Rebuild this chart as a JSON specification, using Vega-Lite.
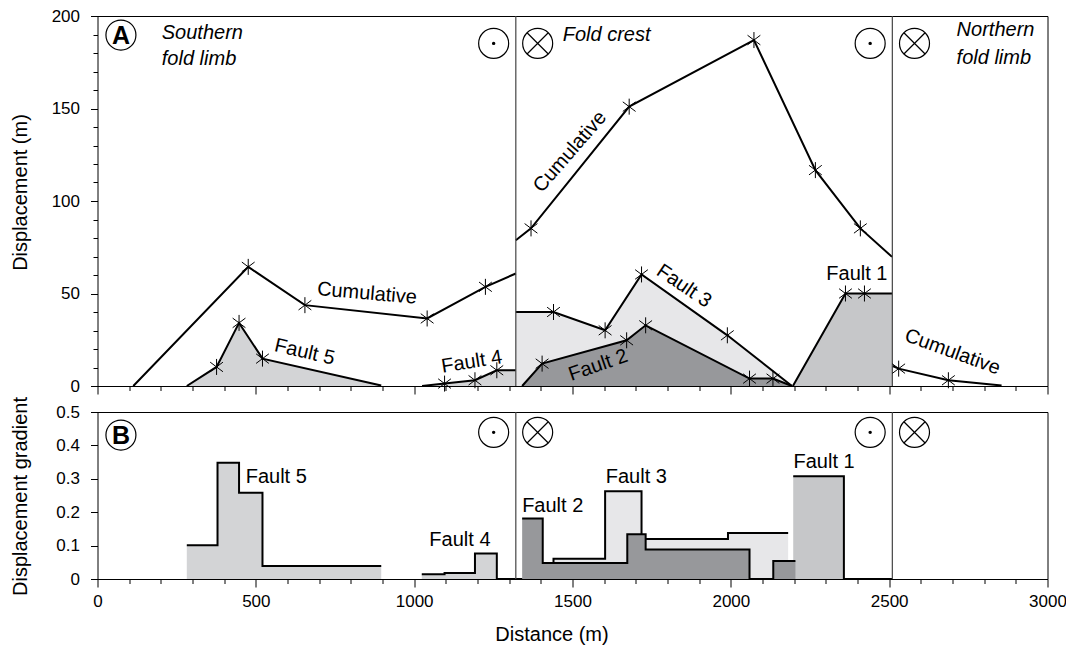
{
  "$schema": "https://vega.github.io/schema/vega-lite/v6.json",
  "padding": {"left": 9.5, "top": 6, "right": 0, "bottom": 5},
  "config": {
    "font": "Liberation Sans",
    "view": {"stroke": "black", "strokeWidth": 1},
    "axis": {"labelFont": "Liberation Sans", "titleFont": "Liberation Sans", "labelFontSize": 17, "titleFontSize": 20, "titleFontWeight": "normal", "labelColor": "black", "titleColor": "black", "tickColor": "black", "domain": false, "grid": false, "labelOverlap": false, "labelFlush": false},
    "text": {"font": "Liberation Sans", "fontSize": 20, "color": "black"}
  },
  "datasets": {
    "dispA": [
      {"series": "Cumulative S", "x": 113, "y": 0, "star": false},
      {"series": "Cumulative S", "x": 476, "y": 64.4, "star": true},
      {"series": "Cumulative S", "x": 655, "y": 43.7, "star": true},
      {"series": "Cumulative S", "x": 1041, "y": 36.5, "star": true},
      {"series": "Cumulative S", "x": 1225, "y": 53.6, "star": true},
      {"series": "Cumulative S", "x": 1321, "y": 60.8, "star": false},
      {"series": "Cumulative C", "x": 1321, "y": 78.8, "star": false},
      {"series": "Cumulative C", "x": 1369, "y": 85.2, "star": true},
      {"series": "Cumulative C", "x": 1679, "y": 151, "star": true},
      {"series": "Cumulative C", "x": 2073, "y": 187, "star": true},
      {"series": "Cumulative C", "x": 2267, "y": 116.7, "star": true},
      {"series": "Cumulative C", "x": 2409, "y": 85.2, "star": true},
      {"series": "Cumulative C", "x": 2509, "y": 69.8, "star": false},
      {"series": "Cumulative N", "x": 2511, "y": 10.8, "star": false},
      {"series": "Cumulative N", "x": 2530, "y": 9.4, "star": true},
      {"series": "Cumulative N", "x": 2687, "y": 3.1, "star": true},
      {"series": "Cumulative N", "x": 2855, "y": 0.3, "star": false},
      {"series": "Fault 5", "x": 282, "y": 0, "star": false},
      {"series": "Fault 5", "x": 376, "y": 10.3, "star": true},
      {"series": "Fault 5", "x": 447, "y": 34.1, "star": true},
      {"series": "Fault 5", "x": 521, "y": 14.8, "star": true},
      {"series": "Fault 5", "x": 896, "y": 0.3, "star": false},
      {"series": "Fault 4", "x": 1025, "y": 0, "star": false},
      {"series": "Fault 4", "x": 1096, "y": 1.3, "star": true},
      {"series": "Fault 4", "x": 1192, "y": 3.1, "star": true},
      {"series": "Fault 4", "x": 1261, "y": 8.5, "star": true},
      {"series": "Fault 4", "x": 1321, "y": 8.5, "star": false},
      {"series": "Fault 3", "x": 1321, "y": 40, "star": false},
      {"series": "Fault 3", "x": 1440, "y": 40, "star": true},
      {"series": "Fault 3", "x": 1603, "y": 30.1, "star": true},
      {"series": "Fault 3", "x": 1718, "y": 60.3, "star": true},
      {"series": "Fault 3", "x": 1989, "y": 27.4, "star": true},
      {"series": "Fault 3", "x": 2193, "y": 0, "star": false},
      {"series": "Fault 2", "x": 1341, "y": 0, "star": false},
      {"series": "Fault 2", "x": 1404, "y": 12.1, "star": true},
      {"series": "Fault 2", "x": 1671, "y": 24.7, "star": true},
      {"series": "Fault 2", "x": 1731, "y": 32.8, "star": true},
      {"series": "Fault 2", "x": 2059, "y": 4, "star": true},
      {"series": "Fault 2", "x": 2133, "y": 4, "star": true},
      {"series": "Fault 2", "x": 2193, "y": 0, "star": false},
      {"series": "Fault 1", "x": 2196, "y": 0, "star": false},
      {"series": "Fault 1", "x": 2362, "y": 50, "star": true},
      {"series": "Fault 1", "x": 2422, "y": 50, "star": true},
      {"series": "Fault 1", "x": 2509, "y": 50, "star": false}
    ],
    "gradB": [
      {"series": "Fault 5", "x": 282, "y": 0.101},
      {"series": "Fault 5", "x": 379, "y": 0.348},
      {"series": "Fault 5", "x": 447, "y": 0.258},
      {"series": "Fault 5", "x": 521, "y": 0.039},
      {"series": "Fault 5", "x": 896, "y": 0.039},
      {"series": "Fault 4", "x": 1024, "y": 0.014},
      {"series": "Fault 4", "x": 1096, "y": 0.018},
      {"series": "Fault 4", "x": 1192, "y": 0.076},
      {"series": "Fault 4", "x": 1261, "y": 0},
      {"series": "Fault 4", "x": 1321, "y": 0},
      {"series": "Fault 3", "x": 1321, "y": 0},
      {"series": "Fault 3", "x": 1440, "y": 0.061},
      {"series": "Fault 3", "x": 1603, "y": 0.263},
      {"series": "Fault 3", "x": 1718, "y": 0.12},
      {"series": "Fault 3", "x": 1991, "y": 0.138},
      {"series": "Fault 3", "x": 2181, "y": 0.138},
      {"series": "Fault 2", "x": 1341, "y": 0.181},
      {"series": "Fault 2", "x": 1406, "y": 0.048},
      {"series": "Fault 2", "x": 1673, "y": 0.134},
      {"series": "Fault 2", "x": 1731, "y": 0.088},
      {"series": "Fault 2", "x": 2059, "y": 0},
      {"series": "Fault 2", "x": 2134, "y": 0.054},
      {"series": "Fault 2", "x": 2204, "y": 0.054},
      {"series": "Fault 1", "x": 2197, "y": 0.308},
      {"series": "Fault 1", "x": 2357, "y": 0},
      {"series": "Fault 1", "x": 2509, "y": 0}
    ]
  },
  "vconcat": [
    {
      "width": 950,
      "height": 370,
      "encoding": {
        "x": {"field": "x", "type": "quantitative", "scale": {"domain": [0, 3000], "nice": false, "zero": false},
          "axis": {"values": [0,100,200,300,400,500,600,700,800,900,1000,1100,1200,1300,1400,1500,1600,1700,1800,1900,2000,2100,2200,2300,2400,2500,2600,2700,2800,2900,3000], "labels": false, "title": null, "tickSize": {"condition": {"test": "datum.value % 500 === 0", "value": 8}, "value": 4.5}}},
        "y": {"field": "y", "type": "quantitative", "scale": {"domain": [0, 200], "nice": false},
          "axis": {"values": [0,10,20,30,40,50,60,70,80,90,100,110,120,130,140,150,160,170,180,190,200], "labelExpr": "datum.value % 50 === 0 ? format(datum.value, 'd') : ''", "labelPadding": 11, "tickSize": {"condition": {"test": "datum.value % 50 === 0", "value": 7}, "value": 4.5}, "title": "Displacement (m)", "titleX": -77, "titleY": 176, "titleBaseline": "middle", "titleAlign": "center"}}
      },
      "layer": [
        {
          "data": {"name": "dispA"},
          "transform": [{"filter": {"field": "series", "oneOf": ["Fault 1", "Fault 3", "Fault 4", "Fault 5"]}}],
          "mark": {"type": "area"},
          "encoding": {
            "y": {"field": "y", "type": "quantitative", "stack": null},
            "color": {"field": "series", "type": "nominal", "legend": null, "scale": {"domain": ["Fault 1", "Fault 2", "Fault 3", "Fault 4", "Fault 5"], "range": ["#c6c7c9", "#97989b", "#e7e7e9", "#d3d4d6", "#d3d4d6"]}}
          }
        },
        {
          "data": {"name": "dispA"},
          "transform": [{"filter": "datum.series !== 'Fault 2'"}],
          "mark": {"type": "line", "color": "black", "strokeWidth": 2},
          "encoding": {"detail": {"field": "series"}}
        },
        {
          "data": {"name": "dispA"},
          "transform": [{"filter": "datum.series === 'Fault 2'"}],
          "mark": {"type": "area"},
          "encoding": {
            "y": {"field": "y", "type": "quantitative", "stack": null},
            "color": {"field": "series", "type": "nominal", "legend": null}
          }
        },
        {
          "data": {"name": "dispA"},
          "transform": [{"filter": "datum.series === 'Fault 2'"}],
          "mark": {"type": "line", "color": "black", "strokeWidth": 2},
          "encoding": {"detail": {"field": "series"}}
        },
        {
          "data": {"values": [{"x": 1321}, {"x": 2510}]},
          "mark": {"type": "rule", "color": "#444444", "strokeWidth": 1.2},
          "encoding": {"y": {"value": 0}, "y2": {"value": "height"}}
        },
        {
          "data": {"name": "dispA"},
          "transform": [{"filter": "datum.star"}],
          "mark": {"type": "point", "shape": "M0,-1L0,1M-0.8,-0.6L0.8,0.6M-0.8,0.6L0.8,-0.6", "filled": false, "color": "black", "strokeWidth": 1, "size": 256, "opacity": 1}
        },
        {
          "data": {"values": [{"x": 2398, "y": 60.4, "label": "Fault 1"}]},
          "mark": {"type": "text", "align": "center", "baseline": "middle"},
          "encoding": {"text": {"field": "label"}}
        },
        {
          "data": {"values": [{"x": 851, "y": 50, "label": "Cumulative"}]},
          "mark": {"type": "text", "align": "center", "baseline": "middle", "angle": 5},
          "encoding": {"text": {"field": "label"}}
        },
        {
          "data": {"values": [{"x": 654, "y": 18.4, "label": "Fault 5"}]},
          "mark": {"type": "text", "align": "center", "baseline": "middle", "angle": 13},
          "encoding": {"text": {"field": "label"}}
        },
        {
          "data": {"values": [{"x": 1182, "y": 13, "label": "Fault 4"}]},
          "mark": {"type": "text", "align": "center", "baseline": "middle", "angle": -9},
          "encoding": {"text": {"field": "label"}}
        },
        {
          "data": {"values": [{"x": 1492, "y": 126.6, "label": "Cumulative"}]},
          "mark": {"type": "text", "align": "center", "baseline": "middle", "angle": -49},
          "encoding": {"text": {"field": "label"}}
        },
        {
          "data": {"values": [{"x": 1852, "y": 54, "label": "Fault 3"}]},
          "mark": {"type": "text", "align": "center", "baseline": "middle", "angle": 34},
          "encoding": {"text": {"field": "label"}}
        },
        {
          "data": {"values": [{"x": 1581, "y": 11.2, "label": "Fault 2"}]},
          "mark": {"type": "text", "align": "center", "baseline": "middle", "angle": -19},
          "encoding": {"text": {"field": "label"}}
        },
        {
          "data": {"values": [{"x": 2700, "y": 18.4, "label": "Cumulative"}]},
          "mark": {"type": "text", "align": "center", "baseline": "middle", "angle": 20},
          "encoding": {"text": {"field": "label"}}
        },
        {
          "data": {"values": [
            {"x": 203, "y": 190.8, "label": "Southern"},
            {"x": 203, "y": 176.7, "label": "fold limb"},
            {"x": 1469, "y": 189.7, "label": "Fold crest"},
            {"x": 2713, "y": 192.3, "label": "Northern"},
            {"x": 2713, "y": 177.2, "label": "fold limb"}
          ]},
          "mark": {"type": "text", "align": "left", "baseline": "middle", "fontStyle": "italic"},
          "encoding": {"text": {"field": "label"}}
        },
        {
          "data": {"values": [{"x": 1251, "y": 185.2}, {"x": 2440, "y": 185.2}, {"x": 74, "y": 189.7}]},
          "mark": {"type": "point", "shape": "circle", "filled": false, "color": "black", "strokeWidth": 1.2, "size": 900, "opacity": 1}
        },
        {
          "data": {"values": [{"x": 1251, "y": 185.2}, {"x": 2440, "y": 185.2}]},
          "mark": {"type": "point", "shape": "circle", "filled": true, "color": "black", "size": 12, "opacity": 1}
        },
        {
          "data": {"values": [{"x": 1390, "y": 185.2}, {"x": 2580, "y": 185.2}]},
          "mark": {"type": "point", "shape": "M-1,0A1,1,0,1,0,1,0A1,1,0,1,0,-1,0ZM-0.707,-0.707L0.707,0.707M-0.707,0.707L0.707,-0.707", "filled": false, "color": "black", "strokeWidth": 1.2, "size": 900, "opacity": 1}
        },
        {
          "data": {"values": [{"x": 74, "y": 189.7, "label": "A"}]},
          "mark": {"type": "text", "align": "center", "baseline": "middle", "fontWeight": "bold", "fontSize": 25, "dy": 1},
          "encoding": {"text": {"field": "label"}}
        }
      ]
    },
    {
      "width": 950,
      "height": 167,
      "encoding": {
        "x": {"field": "x", "type": "quantitative", "scale": {"domain": [0, 3000], "nice": false, "zero": false},
          "axis": {"values": [0,100,200,300,400,500,600,700,800,900,1000,1100,1200,1300,1400,1500,1600,1700,1800,1900,2000,2100,2200,2300,2400,2500,2600,2700,2800,2900,3000], "labelExpr": "datum.value % 500 === 0 ? format(datum.value, 'd') : ''", "labelPadding": 6, "tickSize": {"condition": {"test": "datum.value % 500 === 0", "value": 8}, "value": 4.5}, "title": "Distance (m)", "titleX": 454, "titleY": 55, "titleBaseline": "middle", "titleAlign": "center"}},
        "y": {"field": "y", "type": "quantitative", "scale": {"domain": [0, 0.5], "nice": false},
          "axis": {"values": [0, 0.1, 0.2, 0.3, 0.4, 0.5], "labelExpr": "datum.value === 0 ? '0' : format(datum.value, '.1f')", "labelPadding": 11, "tickSize": 7, "title": "Displacement gradient", "titleX": -77, "titleY": 84, "titleBaseline": "middle", "titleAlign": "center"}}
      },
      "layer": [
        {
          "data": {"name": "gradB"},
          "transform": [{"filter": "datum.series !== 'Fault 2'"}],
          "mark": {"type": "area", "interpolate": "step-after"},
          "encoding": {
            "y": {"field": "y", "type": "quantitative", "stack": null},
            "color": {"field": "series", "type": "nominal", "legend": null, "scale": {"domain": ["Fault 1", "Fault 2", "Fault 3", "Fault 4", "Fault 5"], "range": ["#c6c7c9", "#97989b", "#e7e7e9", "#d3d4d6", "#d3d4d6"]}}
          }
        },
        {
          "data": {"name": "gradB"},
          "transform": [{"filter": "datum.series !== 'Fault 2'"}],
          "mark": {"type": "line", "interpolate": "step-after", "color": "black", "strokeWidth": 2},
          "encoding": {"detail": {"field": "series"}}
        },
        {
          "data": {"name": "gradB"},
          "transform": [{"filter": "datum.series === 'Fault 2'"}],
          "mark": {"type": "area", "interpolate": "step-after"},
          "encoding": {
            "y": {"field": "y", "type": "quantitative", "stack": null},
            "color": {"field": "series", "type": "nominal", "legend": null}
          }
        },
        {
          "data": {"name": "gradB"},
          "transform": [{"filter": "datum.series === 'Fault 2'"}],
          "mark": {"type": "line", "interpolate": "step-after", "color": "black", "strokeWidth": 2},
          "encoding": {"detail": {"field": "series"}}
        },
        {
          "data": {"values": [{"x": 1321}, {"x": 2510}]},
          "mark": {"type": "rule", "color": "#444444", "strokeWidth": 1.2},
          "encoding": {"y": {"value": 0}, "y2": {"value": "height"}}
        },
        {
          "data": {"values": [
            {"x": 468, "y": 0.304, "label": "Fault 5"},
            {"x": 1048, "y": 0.117, "label": "Fault 4"},
            {"x": 1341, "y": 0.218, "label": "Fault 2"},
            {"x": 1605, "y": 0.304, "label": "Fault 3"},
            {"x": 2198, "y": 0.349, "label": "Fault 1"}
          ]},
          "mark": {"type": "text", "align": "left", "baseline": "middle"},
          "encoding": {"text": {"field": "label"}}
        },
        {
          "data": {"values": [{"x": 1251, "y": 0.439}, {"x": 2440, "y": 0.439}, {"x": 74, "y": 0.431}]},
          "mark": {"type": "point", "shape": "circle", "filled": false, "color": "black", "strokeWidth": 1.2, "size": 900, "opacity": 1}
        },
        {
          "data": {"values": [{"x": 1251, "y": 0.439}, {"x": 2440, "y": 0.439}]},
          "mark": {"type": "point", "shape": "circle", "filled": true, "color": "black", "size": 12, "opacity": 1}
        },
        {
          "data": {"values": [{"x": 1390, "y": 0.439}, {"x": 2580, "y": 0.439}]},
          "mark": {"type": "point", "shape": "M-1,0A1,1,0,1,0,1,0A1,1,0,1,0,-1,0ZM-0.707,-0.707L0.707,0.707M-0.707,0.707L0.707,-0.707", "filled": false, "color": "black", "strokeWidth": 1.2, "size": 900, "opacity": 1}
        },
        {
          "data": {"values": [{"x": 74, "y": 0.431, "label": "B"}]},
          "mark": {"type": "text", "align": "center", "baseline": "middle", "fontWeight": "bold", "fontSize": 25, "dy": 1},
          "encoding": {"text": {"field": "label"}}
        }
      ]
    }
  ],
  "spacing": 26,
  "bounds": "flush",
  "resolve": {"scale": {"y": "independent"}}
}
